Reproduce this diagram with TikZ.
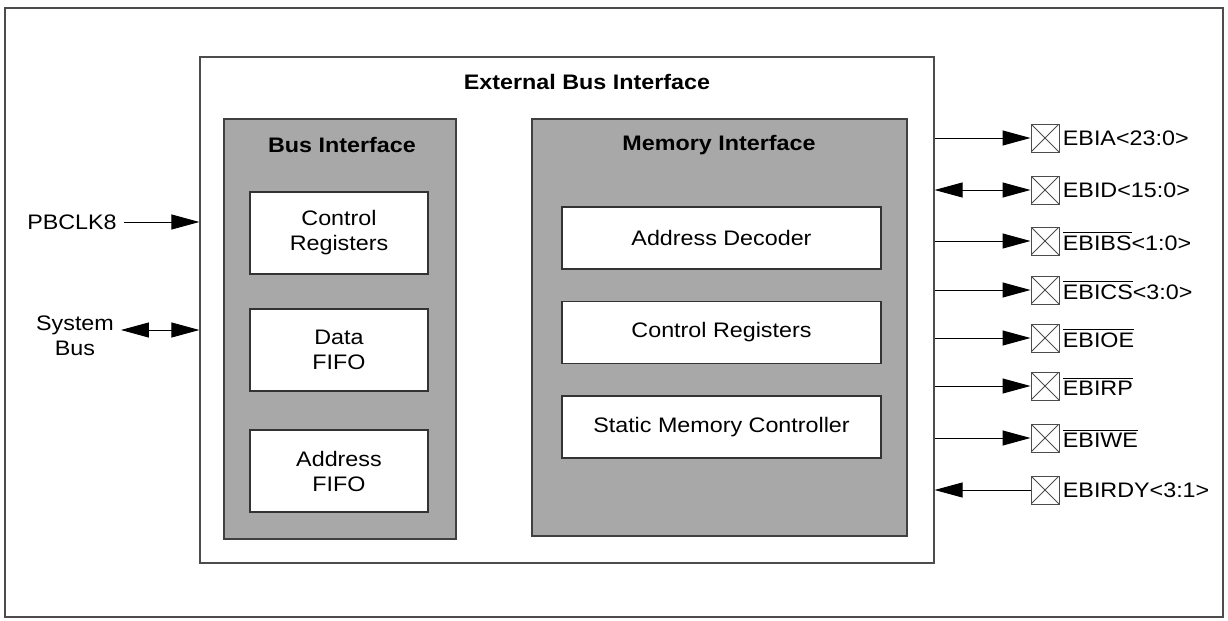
\documentclass[tikz,border=0pt]{standalone}
\usepackage{fontspec}
\setmainfont[FakeStretch=1.11]{Liberation Sans}
\usetikzlibrary{arrows.meta,positioning,calc}
\definecolor{blockgray}{RGB}{168,168,168}
\newcommand{\nbar}[1]{$\overline{\mbox{#1}}$}
\tikzset{
    frame/.style={
        rectangle,
        draw=black!70,
        line width=0.6pt,
    },
    block/.style={
        rectangle,
        draw=black!75,
        fill=blockgray,
        line width=0.7pt,
    },
    reg/.style={
        rectangle,
        draw=black!80,
        fill=white,
        line width=0.6pt,
        align=center,
        font=\fontsize{10.5}{12.5}\selectfont,
    },
    title/.style={
        font=\fontsize{10.5}{12.5}\selectfont\bfseries,
    },
    pad/.style={
        rectangle,
        draw=black!70,
        line width=0.5pt,
        minimum size=14pt,
        inner sep=0pt,
        path picture={
            \draw[black!70,line width=0.4pt]
                (path picture bounding box.south west) -- (path picture bounding box.north east)
                (path picture bounding box.north west) -- (path picture bounding box.south east);
        },
    },
    sig/.style={
        draw,
        -{Triangle[length=14pt,width=7.5pt]},
        line width=0.5pt,
    },
    bisig/.style={
        draw,
        {Triangle[length=14pt,width=7.5pt]}-{Triangle[length=14pt,width=7.5pt]},
        line width=0.5pt,
    },
    every label/.style={
        font=\fontsize{10.5}{12.5}\selectfont,
        inner sep=1.5pt,
    },
}

\begin{document}
\begin{tikzpicture}[x=0.5pt,y=-0.5pt]
                \useasboundingbox (0,0) rectangle (1228,621);
                \draw[frame] (5,8) rectangle (1223,617);

                % external bus interface
                \node [frame, minimum width=367pt, minimum height=253pt] (EBI) at (567,310) {};
                \node [title] (EBIt) at (587,82) {External Bus Interface};

                % bus interface side
                \node [block, minimum width=116pt, minimum height=210pt] (BI) at (340,329) {};
                \node [title] (BIt) at (342,145) {Bus Interface};
                \node [reg, minimum width=89pt, minimum height=41pt] (CR1) at (339,233) {Control\\Registers};
                \node [reg, minimum width=89pt, minimum height=41pt] (DF) at (339,350) {Data\\FIFO};
                \node [reg, minimum width=89pt, minimum height=41pt] (AF) at (339,471) {Address\\FIFO};

                % memory interface side
                \node [block, minimum width=187.5pt, minimum height=208.5pt] (MI) at (719.5,327.5) {};
                \node [title] (MIt) at (719,145) {Memory Interface};
                \node [reg, minimum width=159.5pt, minimum height=31pt] (AD) at (721.5,238) {Address Decoder};
                \node [reg, minimum width=159.5pt, minimum height=31pt] (CR2) at (721.5,332.5) {Control Registers};
                \node [reg, minimum width=159.5pt, minimum height=31pt] (SMC) at (721.5,427) {Static Memory Controller};

                % left side signals
                \node [font=\fontsize{10.5}{12.5}\selectfont] (clk) at (72,222) {PBCLK8};
                \node [font=\fontsize{10.5}{12.5}\selectfont, align=center] (sbus) at (75,336) {System\\Bus};
                \draw [sig] (clk.east) -- (clk.east -| EBI.west);
                \draw [bisig] ($(sbus.east)+(0,-6)$) -- ($(sbus.east -| EBI.west)+(0,-6)$);

                % pins
                \node [pad, label=right:{EBIA<23:0>}] (pA) at (1045,138) {};
                \node [pad, label=right:{EBID<15:0>}] (pD) at (1045,190) {};
                \node [pad, label=right:{\nbar{EBIBS}<1:0>}] (pBS) at (1045,241) {};
                \node [pad, label=right:{\nbar{EBICS}<3:0>}] (pCS) at (1045,290) {};
                \node [pad, label=right:{\nbar{EBIOE}}] (pOE) at (1045,338) {};
                \node [pad, label=right:{\nbar{EBIRP}}] (pRP) at (1045,386) {};
                \node [pad, label=right:{\nbar{EBIWE}}] (pWE) at (1045,438) {};
                \node [pad, label=right:{EBIRDY<3:1>}] (pRDY) at (1045,490) {};

                \draw [sig] (pA -| EBI.east) -- (pA.west);
                \draw [bisig] (pD -| EBI.east) -- (pD.west);
                \draw [sig] (pBS -| EBI.east) -- (pBS.west);
                \draw [sig] (pCS -| EBI.east) -- (pCS.west);
                \draw [sig] (pOE -| EBI.east) -- (pOE.west);
                \draw [sig] (pRP -| EBI.east) -- (pRP.west);
                \draw [sig] (pWE -| EBI.east) -- (pWE.west);
                \draw [sig] (pRDY.west) -- (pRDY -| EBI.east);
\end{tikzpicture}
\end{document}
